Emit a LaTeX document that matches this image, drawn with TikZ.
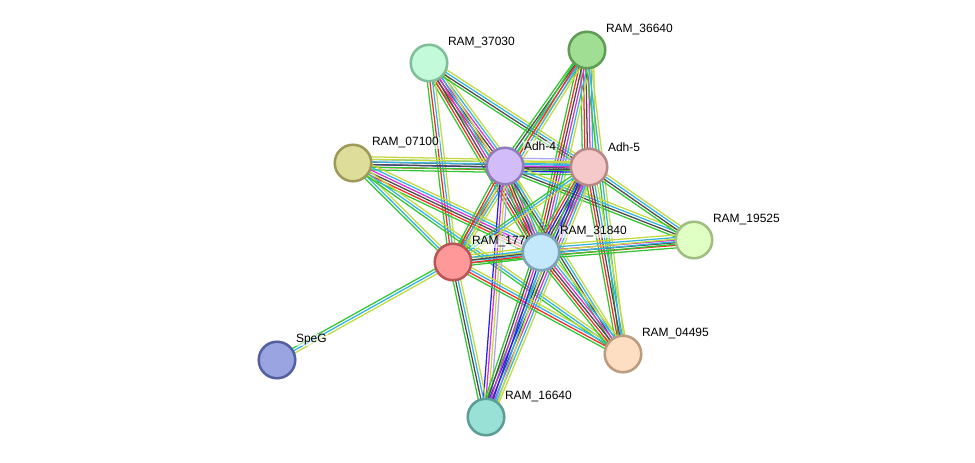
\documentclass[tikz,border=0pt]{standalone}
\usepackage{fontspec}
\setmainfont{Liberation Sans}
\usepackage{xcolor}
% evidence channels
\definecolor{linkG}{HTML}{33C633}
\definecolor{linkR}{HTML}{F52A2A}
\definecolor{linkB}{HTML}{2424F0}
\definecolor{linkK}{HTML}{4A4A4A}
\definecolor{linkM}{HTML}{D633D6}
\definecolor{linkC}{HTML}{33B4E0}
\definecolor{linkY}{HTML}{C4D93C}
\definecolor{linkP}{HTML}{A8A8F5}
% protein nodes
\definecolor{fillMint}{HTML}{C3FAD9}
\definecolor{drawMint}{HTML}{80BE9A}
\definecolor{fillGreen}{HTML}{A0DE94}
\definecolor{drawGreen}{HTML}{5E9E54}
\definecolor{fillOlive}{HTML}{DEDD9A}
\definecolor{drawOlive}{HTML}{9C9A58}
\definecolor{fillLilac}{HTML}{D2BDFA}
\definecolor{drawLilac}{HTML}{907EBA}
\definecolor{fillRose}{HTML}{F5C9C9}
\definecolor{drawRose}{HTML}{B88888}
\definecolor{fillLime}{HTML}{E0FFC4}
\definecolor{drawLime}{HTML}{A0BE82}
\definecolor{fillRed}{HTML}{FF9999}
\definecolor{drawRed}{HTML}{B85656}
\definecolor{fillSky}{HTML}{C3E8FB}
\definecolor{drawSky}{HTML}{7FA2B8}
\definecolor{fillPeach}{HTML}{FDDEC3}
\definecolor{drawPeach}{HTML}{BC9C80}
\definecolor{fillNavy}{HTML}{99A4E0}
\definecolor{drawNavy}{HTML}{5560A0}
\definecolor{fillTeal}{HTML}{99E0D7}
\definecolor{drawTeal}{HTML}{5A9E96}
\usetikzlibrary{calc,backgrounds}
\tikzset{
  netnode/.style={
    circle,
    minimum size=27.4pt,
    inner sep=0pt,
    line width=1.9pt
  },
  netlabel/.style={
    anchor=west,
    font=\fontsize{9}{10}\selectfont,
    inner sep=0.6pt,
    fill=white,
    fill opacity=0.6,
    text opacity=1
  },
  netline/.style={
    line width=0.95pt
  }
}
\newcommand{\netlink}[3]{%
  \foreach \clr [count=\i] in {#3}{\xdef\nlines{\i}}
  \foreach \clr [count=\i] in {#3}{
    \pgfmathsetlengthmacro{\off}{(\i-(\nlines+1)/2)*1.95pt}
    \draw[netline,draw=\clr] ($(#1)!\off!90:(#2)$) -- ($(#2)!\off!-90:(#1)$);
  }
}

\begin{document}
\begin{tikzpicture}[x=0.75pt,y=-0.75pt]
  \useasboundingbox (0,0) rectangle (975,463);
  \node[netnode,draw=drawMint,fill=fillMint] (r37030) at (429,63) {};
  \node[netlabel] (l37030) at ($(r37030)+(18,-20)$) {RAM\_37030};
  \node[netnode,draw=drawGreen,fill=fillGreen] (r36640) at (587,50) {};
  \node[netlabel] (l36640) at ($(r36640)+(18,-20)$) {RAM\_36640};
  \node[netnode,draw=drawOlive,fill=fillOlive] (r07100) at (353,163) {};
  \node[netlabel] (l07100) at ($(r07100)+(18,-20)$) {RAM\_07100};
  \node[netnode,draw=drawLilac,fill=fillLilac] (adh4) at (505,166) {};
  \node[netlabel] (ladh4) at ($(adh4)+(18,-20)$) {Adh-4};
  \node[netnode,draw=drawRose,fill=fillRose] (adh5) at (589,167) {};
  \node[netlabel] (ladh5) at ($(adh5)+(18,-20)$) {Adh-5};
  \node[netnode,draw=drawLime,fill=fillLime] (r19525) at (694,240) {};
  \node[netlabel] (l19525) at ($(r19525)+(18,-20)$) {RAM\_19525};
  \node[netnode,draw=drawRed,fill=fillRed] (r17790) at (453,262) {};
  \node[netlabel] (l17790) at ($(r17790)+(18,-20)$) {RAM\_17790};
  \node[netnode,draw=drawSky,fill=fillSky] (r31840) at (541,252) {};
  \node[netlabel] (l31840) at ($(r31840)+(18,-20)$) {RAM\_31840};
  \node[netnode,draw=drawPeach,fill=fillPeach] (r04495) at (623,354) {};
  \node[netlabel] (l04495) at ($(r04495)+(18,-20)$) {RAM\_04495};
  \node[netnode,draw=drawNavy,fill=fillNavy] (speg) at (277,360) {};
  \node[netlabel] (lspeg) at ($(speg)+(18,-20)$) {SpeG};
  \node[netnode,draw=drawTeal,fill=fillTeal] (r16640) at (486,417) {};
  \node[netlabel] (l16640) at ($(r16640)+(18,-20)$) {RAM\_16640};
  \begin{pgfonlayer}{background}
    % bundles, one line per evidence channel
    \netlink{r37030}{adh4}{linkG,linkR,linkK,linkM,linkC,linkY}
    \netlink{r37030}{r31840}{linkG,linkR,linkK,linkM,linkC,linkY}
    \netlink{r37030}{adh5}{linkG,linkK,linkC,linkY}
    \netlink{r37030}{r17790}{linkG,linkR,linkC,linkY}
    \netlink{r36640}{adh4}{linkG,linkK,linkC,linkY}
    \netlink{r36640}{adh5}{linkG,linkR,linkK,linkM,linkC,linkY}
    \netlink{r36640}{r31840}{linkG,linkR,linkK,linkM,linkC,linkY}
    \netlink{r36640}{r17790}{linkG,linkR,linkC,linkY}
    \netlink{r36640}{r04495}{linkG,linkC,linkY}
    \netlink{r07100}{adh4}{linkG,linkR,linkB,linkK,linkC,linkY}
    \netlink{r07100}{adh5}{linkG,linkK,linkC,linkY}
    \netlink{r07100}{r31840}{linkG,linkR,linkK,linkM,linkC,linkY}
    \netlink{r07100}{r17790}{linkG,linkC,linkY}
    \netlink{r07100}{r04495}{linkG,linkC,linkY}
    \netlink{adh4}{adh5}{linkG,linkB,linkK,linkM,linkC,linkY,linkP}
    \netlink{adh4}{r19525}{linkG,linkK,linkC,linkY}
    \netlink{adh4}{r31840}{linkG,linkR,linkK,linkM,linkC,linkY}
    \netlink{adh4}{r17790}{linkG,linkR,linkC,linkY}
    \netlink{adh4}{r16640}{linkB,linkM,linkY,linkP}
    \netlink{adh4}{r04495}{linkG,linkK,linkC,linkY}
    \netlink{adh5}{r19525}{linkG,linkK,linkC,linkY}
    \netlink{adh5}{r31840}{linkG,linkR,linkB,linkK,linkM,linkC,linkY}
    \netlink{adh5}{r17790}{linkG,linkC,linkY}
    \netlink{adh5}{r16640}{linkG,linkB,linkK,linkM,linkC,linkY}
    \netlink{adh5}{r04495}{linkG,linkR,linkK,linkC,linkY}
    \netlink{r31840}{r19525}{linkG,linkR,linkK,linkM,linkC,linkY}
    \netlink{r17790}{r19525}{linkG,linkC,linkY}
    \netlink{r17790}{r31840}{linkG,linkR,linkK,linkC,linkY}
    \netlink{r17790}{r04495}{linkG,linkR,linkC,linkY}
    \netlink{r17790}{speg}{linkG,linkC,linkY}
    \netlink{r17790}{r16640}{linkG,linkK,linkC,linkY}
    \netlink{r31840}{r04495}{linkG,linkR,linkK,linkM,linkC,linkY}
    \netlink{r31840}{r16640}{linkG,linkK,linkM,linkB,linkC,linkY}
  \end{pgfonlayer}
\end{tikzpicture}
\end{document}
